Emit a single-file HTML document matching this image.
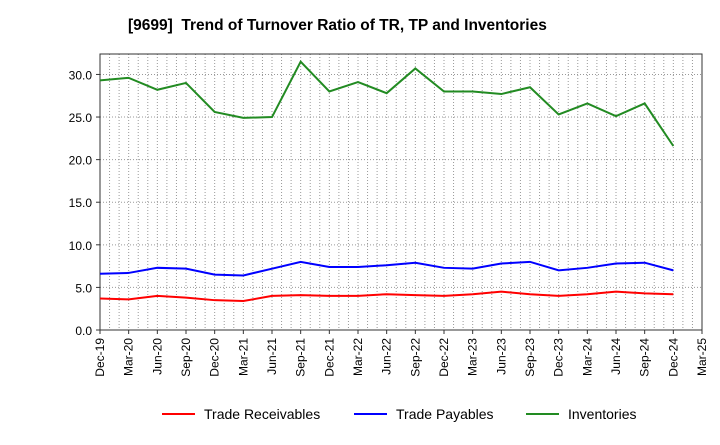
<!DOCTYPE html>
<html><head><meta charset="utf-8"><style>
body{margin:0;background:#fff;font-family:"Liberation Sans",sans-serif}
</style></head><body>
<svg id="c" width="720" height="440" xmlns="http://www.w3.org/2000/svg">
<text x="128" y="30" font-size="15.5" font-weight="bold" xml:space="preserve">[9699]  Trend of Turnover Ratio of TR, TP and Inventories</text>
<g id="grid"></g><g id="axes"></g><g id="series"></g>
<g>
<line x1="162" y1="414" x2="195" y2="414" stroke="#ff0000" stroke-width="2"/>
<text x="204" y="419" font-size="14">Trade Receivables</text>
<line x1="354" y1="414" x2="387" y2="414" stroke="#0000ff" stroke-width="2"/>
<text x="396" y="419" font-size="14">Trade Payables</text>
<line x1="526" y1="414" x2="559" y2="414" stroke="#228b22" stroke-width="2"/>
<text x="568" y="419" font-size="14">Inventories</text>
</g>
</svg>
<script>
const categories=["Dec-19","Mar-20","Jun-20","Sep-20","Dec-20","Mar-21","Jun-21","Sep-21","Dec-21","Mar-22","Jun-22","Sep-22","Dec-22","Mar-23","Jun-23","Sep-23","Dec-23","Mar-24","Jun-24","Sep-24","Dec-24","Mar-25"];
const receivables=[3.7,3.6,4.0,3.8,3.5,3.4,4.0,4.1,4.0,4.0,4.2,4.1,4.0,4.2,4.5,4.2,4.0,4.2,4.5,4.3,4.2];
const payables=[6.6,6.7,7.3,7.2,6.5,6.4,7.2,8.0,7.4,7.4,7.6,7.9,7.3,7.2,7.8,8.0,7.0,7.3,7.8,7.9,7.0];
const inventories=[29.3,29.6,28.2,29.0,25.6,24.9,25.0,31.5,28.0,29.1,27.8,30.7,28.0,28.0,27.7,28.5,25.3,26.6,25.1,26.6,21.6];
const yTicks=[0,5,10,15,20,25,30];
const L=100,R=702,T=54,B=330,YMAX=32.4;
const NS="http://www.w3.org/2000/svg";
const xs=i=>L+(R-L)*i/(categories.length-1);
const ys=v=>B-(B-T)*v/YMAX;
function mk(p,tag,a){const e=document.createElementNS(NS,tag);for(const k in a)e.setAttribute(k,a[k]);p.appendChild(e);return e;}
const grid=document.getElementById('grid'),axes=document.getElementById('axes'),ser=document.getElementById('series');
for(let m=1;m<(categories.length-1)*3;m++){const x=L+(R-L)*m/((categories.length-1)*3);
const g=mk(grid,'line',{x1:x,x2:x,y1:T,y2:B,stroke:'#999','stroke-dasharray':'1,2','stroke-width':1});

}
yTicks.forEach(v=>{const y=ys(v);
const g=mk(grid,'line',{x1:L,x2:R,y1:y,y2:y,stroke:'#999','stroke-dasharray':'1,2','stroke-width':1});


const t=mk(axes,'text',{x:L-8,y:y+5,'text-anchor':'end','font-size':12});t.textContent=v.toFixed(1);


mk(axes,'line',{x1:L-4,x2:L,y1:y,y2:y,stroke:'#333'});});
categories.forEach((c,i)=>{const x=xs(i);
mk(axes,'line',{x1:x,x2:x,y1:B,y2:B+4,stroke:'#333'});
const t=mk(axes,'text',{x:x+4,y:B+8,'text-anchor':'end','font-size':12,transform:`rotate(-90 ${x+4} ${B+8})`});t.textContent=c;

});
const fr=mk(axes,'rect',{x:L,y:T,width:R-L,height:B-T,fill:'none',stroke:'#333'});


[[receivables,'#ff0000','line-trade-receivables'],[payables,'#0000ff','line-trade-payables'],[inventories,'#228b22','line-inventories']].forEach(([d,c,n])=>{
const p=mk(ser,'polyline',{points:d.map((v,i)=>xs(i)+','+ys(v)).join(' '),fill:'none',stroke:c,'stroke-width':2});

});
</script>
</body></html>
